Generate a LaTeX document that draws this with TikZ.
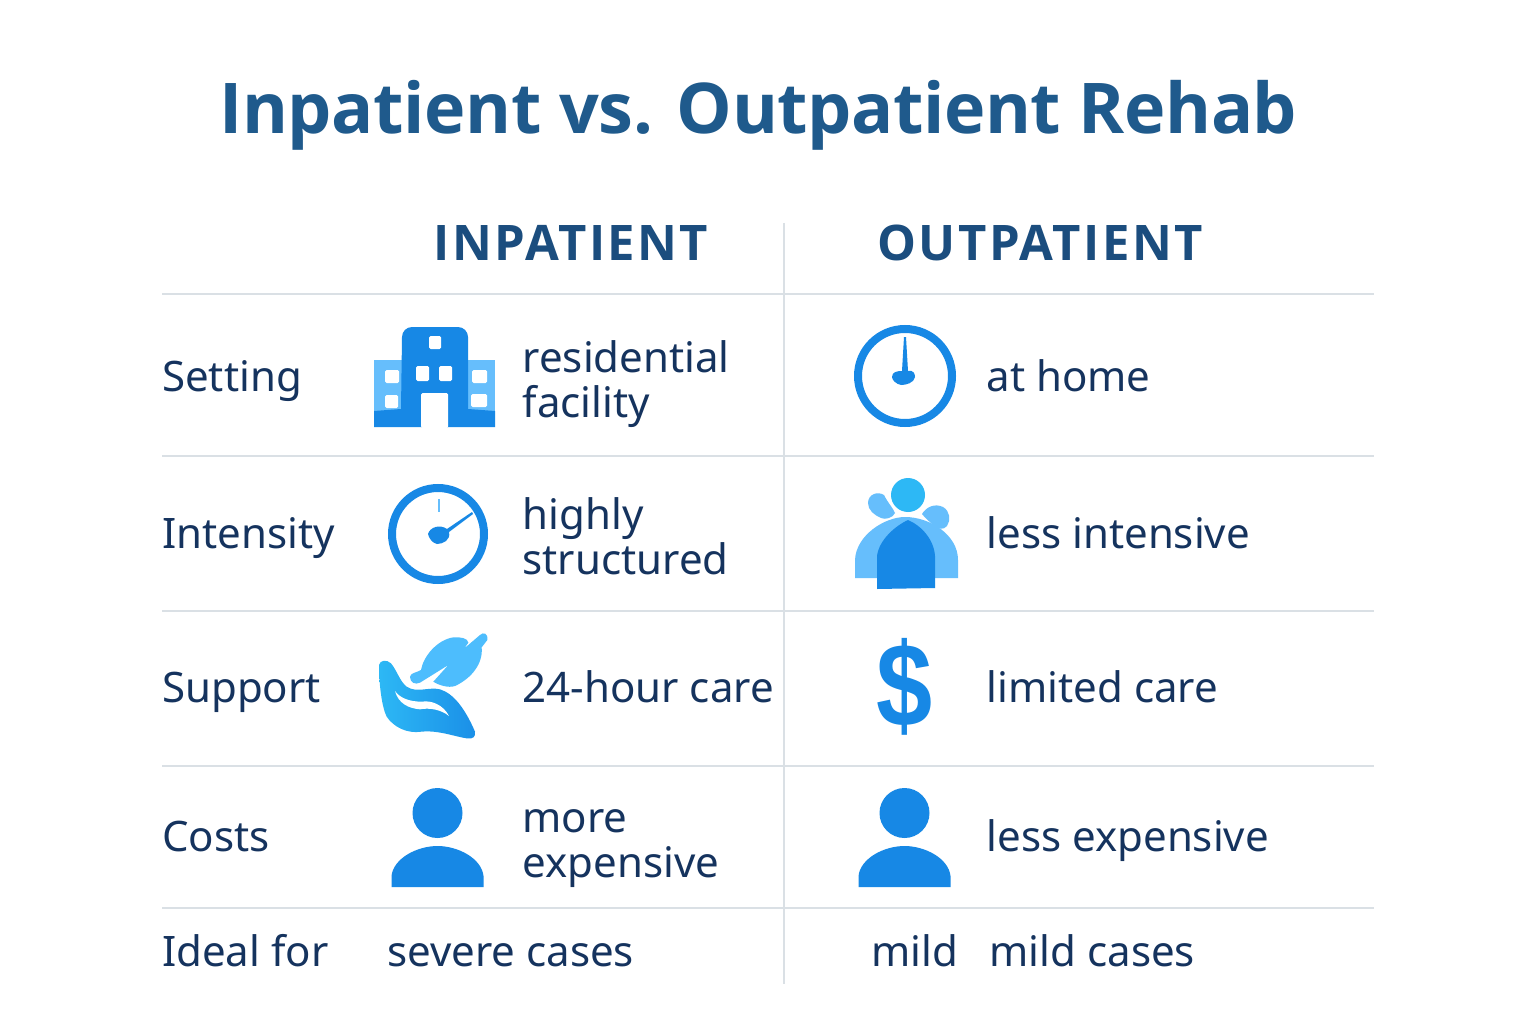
\documentclass[tikz,border=0pt]{standalone}
\usepackage{fontspec}
\setmainfont{Noto Sans}
\newfontfamily\boldfont{Open Sans}
\newfontfamily\dollarfont{Liberation Sans}
\usetikzlibrary{positioning}
\definecolor{titleblue}{HTML}{1F5A8C}
\definecolor{headblue}{HTML}{1B4D7E}
\definecolor{textblue}{HTML}{15335E}
\definecolor{rulegray}{HTML}{DAE0E5}
\definecolor{iconblue}{HTML}{1788E5}
\definecolor{iconlight}{HTML}{66BEFC}
\definecolor{iconsky}{HTML}{2DB8F5}
\definecolor{leafblue}{HTML}{4DBDFD}

\begin{document}
\begin{tikzpicture}[x=1pt, y=-1pt]
            \tikzstyle{label} = [anchor=base west, inner sep=0, text=textblue, font=\fontsize{42}{45}\selectfont]
            \tikzstyle{twolines} = [label, anchor=west, align=left]
            \tikzstyle{heading} = [anchor=base, inner sep=0, text=headblue, font=\fontsize{49}{49}\boldfont\bfseries\addfontfeature{LetterSpace=5}]
            \tikzstyle{rule} = [draw=rulegray, line width=2]
            \tikzstyle{ring} = [draw=iconblue, line width=8]
            \useasboundingbox (0, 0) rectangle (1536, 1024);
            \fill[white] (0, 0) rectangle (1536, 1024);
            \node[anchor=base, inner sep=0, text=titleblue, font=\fontsize{70}{70}\boldfont\bfseries\addfontfeature{LetterSpace=-0.6}] (title) at (758.5, 134) {Inpatient vs. Outpatient Rehab};
            \node[heading] (inhead) at (571, 261) {INPATIENT};
            \node[heading] (outhead) at (1040, 261) {OUTPATIENT};
            % table rules
            \foreach \y [count=\i] in {293.5, 455.5, 611, 765.5, 907.5} {
                \coordinate (left\i) at (162, \y);
                \coordinate (right\i) at (1374, \y);
                \draw[rule] (left\i) -- (right\i);
            }
            \coordinate (divtop) at (784, 223);
            \coordinate (divbot) at (784, 984);
            \draw[rule] (divtop) -- (divbot);
            % row names
            \node[label] (setting) at (162, 391) {Setting};
            \node[label] (intensity) at (162, 548) {Intensity};
            \node[label] (support) at (162, 702) {Support};
            \node[label] (costs) at (162, 851) {Costs};
            \node[label] (ideal) at (162, 966) {Ideal for};
            % inpatient column
            \node[twolines] (residential) at (522.5, 384) {residential\\facility};
            \node[twolines] (highly) at (522.5, 536) {highly\\structured};
            \node[label] (care24) at (522.5, 702) {24-hour care};
            \node[twolines] (more) at (522.5, 848.5) {more\\expensive};
            \node[label] (severe) at (387, 966) {severe cases};
            % outpatient column
            \node[label] (athome) at (986.5, 391) {at home};
            \node[label] (lessint) at (986.5, 548) {less intensive};
            \node[label] (limited) at (986.5, 702) {limited care};
            \node[label] (lessexp) at (986.5, 851) {less expensive};
            \node[label] (mild) at (871.5, 966) {mild};
            \node[label] (mildcases) at (989.5, 966) {mild cases};
            % building
            \fill[iconlight] (374, 360) rectangle (495, 412);
            \fill[iconblue] (374, 427) -- (374, 411) -- (401, 409) -- (402, 337) arc[start angle=180, end angle=270, radius=10] -- (458, 327) arc[start angle=270, end angle=360, radius=10] -- (468, 409) -- (495, 411) -- (495, 427) -- cycle;
            \fill[white, rounded corners=1.5] (421, 428) -- (421, 393) -- (448, 393) -- (448, 428) -- cycle;
            \foreach \wx/\wy/\wr/\wb in {429/336/441/349, 416/366/429/381, 439/366/452/381, 385/370/399/383, 385/395/398/408, 472/370/487/383, 471/394/487/407} {
                \fill[white, rounded corners=1.5] (\wx, \wy) rectangle (\wr, \wb);
            }
            % gauge
            \draw[ring] (438, 534) circle (46);
            \draw[iconlight, line width=1.5] (439, 499) -- (439, 512);
            \fill[iconblue] (428, 534) .. controls (430, 527) and (440, 524) .. (447, 529) -- (472, 512) -- (473, 514) -- (449, 532) .. controls (451, 540) and (443, 544) .. (437, 544) .. controls (432, 543) and (429, 538) .. (428, 534) -- cycle;
            % clock
            \draw[ring] (905, 376) circle (47);
            \fill[iconblue] (904, 337) -- (906, 337) -- (908, 371) .. controls (913, 370) and (915, 373) .. (915, 377) .. controls (914, 383) and (906, 385) .. (901, 385) .. controls (896, 384) and (892, 380) .. (892, 377) .. controls (892, 372) and (897, 371) .. (902, 371) -- cycle;
            % people
            \fill[iconlight] (855, 578) -- (855, 560) .. controls (856, 535) and (885, 517) .. (905, 517) .. controls (930, 517) and (958, 535) .. (958, 560) -- (958, 578) -- cycle;
            \fill[iconblue] (877, 589) -- (877, 556) .. controls (879, 540) and (895, 526) .. (908, 520) .. controls (922, 526) and (934, 540) .. (935, 556) -- (935, 588) -- cycle;
            \fill[iconsky] (908, 495) circle (17);
            \fill[iconlight] (868, 503) .. controls (868, 494) and (878, 491) .. (884, 495) .. controls (888, 503) and (893, 508) .. (895, 513) .. controls (893, 518) and (885, 520) .. (881, 518) .. controls (874, 515) and (868, 510) .. (868, 503) -- cycle;
            \fill[iconlight] (922, 514) .. controls (926, 507) and (935, 503) .. (943, 507) .. controls (950, 511) and (951, 520) .. (947, 526) .. controls (943, 531) and (938, 528) .. (934, 526) .. controls (930, 522) and (925, 518) .. (922, 514) -- cycle;
            % hand and leaf
            \begin{scope}[shift={(365, 620)}, scale=1/3]
                \fill[leafblue] (135, 170) .. controls (137, 158) and (155, 158) .. (168, 150) .. controls (175, 110) and (215, 60) .. (265, 52) .. controls (285, 50) and (310, 55) .. (310, 68) -- (298, 85) -- (345, 45) .. controls (355, 35) and (370, 40) .. (367, 60) -- (350, 82) .. controls (355, 130) and (320, 175) .. (270, 198) .. controls (250, 205) and (220, 195) .. (205, 185) -- (250, 135) -- (165, 188) .. controls (150, 195) and (135, 188) .. (135, 170) -- cycle;
                \path[left color=iconsky, right color=iconblue!85!iconsky] (42, 135) .. controls (45, 120) and (65, 118) .. (78, 130) .. controls (95, 150) and (105, 185) .. (125, 200) .. controls (155, 220) and (190, 200) .. (225, 208) .. controls (265, 220) and (300, 265) .. (330, 335) .. controls (332, 350) and (325, 358) .. (305, 355) .. controls (270, 350) and (220, 330) .. (170, 335) .. controls (125, 342) and (85, 320) .. (65, 290) .. controls (50, 260) and (42, 190) .. (42, 135) -- cycle;
                \fill[white] (90, 213) .. controls (105, 235) and (135, 245) .. (170, 245) .. controls (200, 240) and (235, 255) .. (252, 288) .. controls (230, 270) and (195, 262) .. (165, 268) .. controls (130, 265) and (100, 250) .. (90, 213) -- cycle;
            \end{scope}
            % dollar
            \node[inner sep=0, anchor=base, xscale=0.9, yscale=1.06, transform shape, text=iconblue, font=\fontsize{112}{112}\dollarfont\bfseries] (dollar) at (905, 726.5) {\$};
            % persons
            \foreach \px/\pname in {437.5/in, 904.5/out} {
                \fill[iconblue] (\px, 813) circle (25);
                \fill[iconblue] (\px-46, 887) -- (\px-46, 876) .. controls (\px-44, 858) and (\px-20, 846) .. (\px, 846) .. controls (\px+20, 846) and (\px+44, 858) .. (\px+46, 876) -- (\px+46, 887) -- cycle;
            }
\end{tikzpicture}
\end{document}
